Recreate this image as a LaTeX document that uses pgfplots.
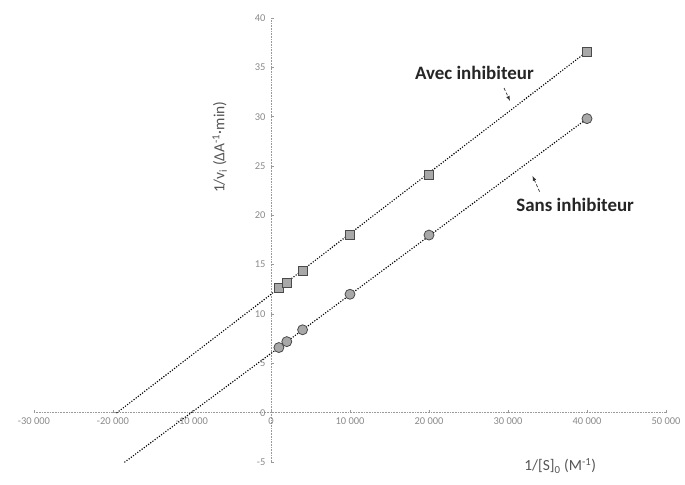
\documentclass[border=0pt]{standalone}
\usepackage{fontspec}
\setmainfont{Carlito}
\usepackage{pgfplots}
\pgfplotsset{compat=1.18}
\definecolor{tickgray}{HTML}{8A8A8A}
\definecolor{axgray}{HTML}{9A9A9A}
\definecolor{markfill}{HTML}{A8A8A8}
\definecolor{markdraw}{HTML}{4A4A4A}
\definecolor{labgray}{HTML}{555555}
\begin{document}
\begin{tikzpicture}
\useasboundingbox (0,0) rectangle (685bp,485bp);
\begin{axis}[
  at={(34bp,23bp)}, anchor=south west,
  scale only axis, width=632bp, height=444bp,
  xmin=-30000, xmax=50000, ymin=-5, ymax=40,
  axis lines=middle,
  axis line style={axgray, line width=0.6pt, densely dotted, -},
  xtick={-30000,-20000,...,50000},
  ytick={-5,0,5,...,40},
  xticklabels={-30 000,-20 000,-10 000,0,10 000,20 000,30 000,40 000,50 000},
  yticklabels={-5,0,5,10,15,20,25,30,35,40},
  hide obscured x ticks=false,
  hide obscured y ticks=false,
  tick style={axgray, line width=0.5pt},
  major tick length=3bp,
  tick align=inside,
  tick label style={font=\fontsize{10.5}{12}\selectfont, text=tickgray},
  xticklabel style={yshift=-2bp},
  yticklabel style={xshift=-2bp},
  scaled x ticks=false,
  clip=false,
]
\addplot[black, line width=1.6pt, dash pattern=on 0pt off 2.7pt, line cap=round]
  coordinates {(-19500,0) (40000,36.6)};
\addplot[black, line width=1.6pt, dash pattern=on 0pt off 2.7pt, line cap=round]
  coordinates {(-18500,-5) (40000,29.8)};
\addplot[only marks, mark=square*, mark size=4.5bp, mark options={fill=markfill, draw=markdraw, line width=0.8pt}]
  coordinates {(1000,12.6) (2000,13.2) (4000,14.4) (10000,18) (20000,24.1) (40000,36.6)};
\addplot[only marks, mark=*, mark size=5bp, mark options={fill=markfill, draw=markdraw, line width=0.8pt}]
  coordinates {(1000,6.6) (2000,7.2) (4000,8.4) (10000,12) (20000,18) (40000,29.8)};
\node[rotate=90, text=labgray, font=\fontsize{15.5}{16}\selectfont] at (axis cs:-6500,26.9)
  {1/v\textsubscript{i} (ΔA\textsuperscript{-1}·min)};
\node[text=labgray, font=\fontsize{15.5}{16}\selectfont] at (axis cs:36600,-5.4)
  {1/[S]\textsubscript{0} (M\textsuperscript{-1})};
\node[font=\bfseries\fontsize{19}{20}\selectfont, text=black!85] at (axis cs:25750,34.4) {Avec inhibiteur};
\node[font=\bfseries\fontsize{19}{20}\selectfont, text=black!85] at (axis cs:38500,21.1) {Sans inhibiteur};
\draw[-latex, densely dashed, black!80, line width=0.7pt] (axis cs:29500,32.9) -- (axis cs:30250,31.6);
\draw[-latex, densely dashed, black!80, line width=0.7pt] (axis cs:34000,22.4) -- (axis cs:33100,24.0);
\end{axis}
\end{tikzpicture}
\end{document}
